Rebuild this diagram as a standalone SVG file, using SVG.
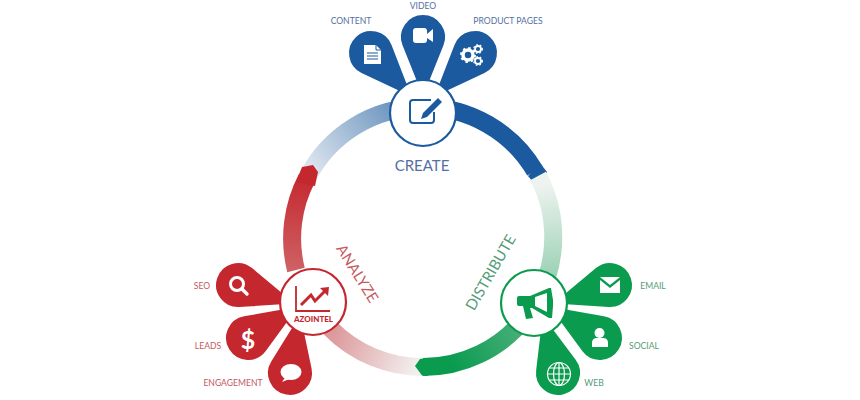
<svg xmlns="http://www.w3.org/2000/svg" xmlns:xlink="http://www.w3.org/1999/xlink" width="860" height="400" viewBox="0 0 860 400">
<style>
text{font-family:"Lato","Open Sans",sans-serif;text-anchor:middle;dominant-baseline:central}
.l{font-size:8.600px}
.big{font-size:15px}
.b{fill:#55709f}.r{fill:#c45a5e}.g{fill:#559c78}
.ring{fill:none;stroke-width:18}
.wn{fill:#fff;stroke-width:2.200}
.pb{fill:#1c5a9f}.pr{fill:#c4282e}.pg{fill:#0a9b4f}
.w{fill:#fff}
</style>
<defs>
<path id="petal" d="M62 0L8.500-21.400A23 23 0 1 0 8.500 21.400Z" stroke="#fff" stroke-width="2"/>
<linearGradient id="gb" gradientUnits="userSpaceOnUse" x1="395" y1="112" x2="308" y2="175"><stop offset="0" stop-color="#6f97c0"/><stop offset="1" stop-color="#e2e9f1"/></linearGradient>
<linearGradient id="gr" gradientUnits="userSpaceOnUse" x1="335" y1="332" x2="415" y2="367"><stop offset="0" stop-color="#dd9a9c"/><stop offset="1" stop-color="#f2eeee"/></linearGradient>
<linearGradient id="gr2" gradientUnits="userSpaceOnUse" x1="305" y1="175" x2="296" y2="280"><stop offset="0" stop-color="#c4282e"/><stop offset="1" stop-color="#d0666a"/></linearGradient>
<linearGradient id="gg" gradientUnits="userSpaceOnUse" x1="553" y1="275" x2="540" y2="185"><stop offset="0" stop-color="#9dd2b5"/><stop offset="1" stop-color="#eef3f0"/></linearGradient>
<linearGradient id="gg2" gradientUnits="userSpaceOnUse" x1="450" y1="362" x2="515" y2="325"><stop offset="0" stop-color="#0a9b4f"/><stop offset="1" stop-color="#45ae77"/></linearGradient>
</defs>
<g id="connectors">
<path class="ring" stroke="url(#gb)" d="M423 107A130 130 0 0 0 307 178"/>
<path class="ring" stroke="#1c5a9f" d="M423 107A130 130 0 0 1 535 171"/>
<path fill="#1c5a9f" d="M540 163L547 172L542 182L533 182L528 176Z"/>
<path class="ring" stroke="url(#gg)" d="M537 300A130 130 0 0 0 538 176"/>
<path class="ring" stroke="url(#gr)" d="M330 328A130 130 0 0 0 425 367"/>
<path class="ring" stroke="url(#gg2)" d="M525 318A130 130 0 0 1 423 367"/>
<path fill="#0a9b4f" d="M420 359L415 366L422 375.500L428 376L428 358Z"/>
<path class="ring" stroke="url(#gr2)" d="M296 270A130 130 0 0 1 307 178"/>
<path fill="#c4282e" d="M302 167L313 165L318 172L315 186L296 182Z"/>
</g>
<g id="content">
<use href="#petal" class="pb" transform="translate(371 53) rotate(47)"/>
<path class="w" d="M364 45H376L381 50V64H364Z"/>
<path d="M367 53H378M367 56H378M367 59H378" stroke="#1c5a9f" stroke-width="1.200"/>
<path d="M376 45V50H381" fill="none" stroke="#1c5a9f" stroke-width="1"/>
<text class="l b" x="351" y="21">CONTENT</text>
</g>
<g id="video">
<use href="#petal" class="pb" transform="translate(423 37) rotate(90)"/>
<rect class="w" x="413" y="28" width="14" height="15" rx="3"/>
<path class="w" d="M427 34L433 29V42L427 38Z"/>
<text class="l b" x="423" y="6">VIDEO</text>
</g>
<g id="product-pages">
<use href="#petal" class="pb" transform="translate(475 53) rotate(133)"/>
<circle cx="468" cy="55" r="5" fill="none" stroke="#fff" stroke-width="3.500"/>
<circle cx="468" cy="55" r="7" fill="none" stroke="#fff" stroke-width="2" stroke-dasharray="2.500 3"/>
<circle cx="478" cy="49" r="3" fill="none" stroke="#fff" stroke-width="1.800"/>
<circle cx="478" cy="49" r="4.300" fill="none" stroke="#fff" stroke-width="1.300" stroke-dasharray="1.600 2"/>
<circle cx="478" cy="61" r="3" fill="none" stroke="#fff" stroke-width="1.800"/>
<circle cx="478" cy="61" r="4.300" fill="none" stroke="#fff" stroke-width="1.300" stroke-dasharray="1.600 2"/>
<text class="l b" x="508" y="21">PRODUCT PAGES</text>
</g>
<g id="create">
<circle class="wn" cx="423" cy="113" r="33" stroke="#1c5a9f"/>
<path d="M431 100H413Q410 100 410 103V120Q410 123 413 123H431Q434 123 434 120V112" fill="none" stroke="#1c5a9f" stroke-width="2"/>
<path fill="#1c5a9f" d="M438 98L442 102L427 117L421 119L423 113Z"/>
<text class="big b" x="422" y="165">CREATE</text>
</g>
<g id="seo">
<use href="#petal" class="pr" transform="translate(238 285) rotate(18)"/>
<circle cx="237" cy="284" r="6.500" fill="none" stroke="#fff" stroke-width="3"/>
<path d="M242 289L247 294" stroke="#fff" stroke-width="3.400" stroke-linecap="round"/>
<text class="l r" x="202" y="286">SEO</text>
</g>
<g id="leads">
<use href="#petal" class="pr" transform="translate(248 338) rotate(-32)"/>
<text x="248" y="339" fill="#fff" style="font-size:25px;font-weight:700">$</text>
<text class="l r" x="208" y="346">LEADS</text>
</g>
<g id="engagement">
<use href="#petal" class="pr" transform="translate(290 373) rotate(-80)"/>
<ellipse class="w" cx="291" cy="372" rx="10.500" ry="8"/>
<path class="w" d="M286 376L282 382L292 378Z"/>
<text class="l r" x="233" y="383">ENGAGEMENT</text>
</g>
<g id="analyze">
<circle class="wn" cx="313" cy="302" r="33" stroke="#c4282e"/>
<path d="M296 286V311H330" fill="none" stroke="#c4282e" stroke-width="1.800"/>
<path d="M301 305L311 295L315 301L325 291" fill="none" stroke="#c4282e" stroke-width="3"/>
<path fill="#c4282e" d="M320 288L329 287L328 296Z"/>
<text x="313.500" y="319" fill="#c4282e" style="font-size:8px;font-weight:900">AZOINTEL</text>
<text class="big r" transform="translate(358 273) rotate(58)">ANALYZE</text>
</g>
<g id="email">
<use href="#petal" class="pg" transform="translate(610 285) rotate(162)"/>
<path class="w" d="M600 277H620L610 285Z"/>
<path class="w" d="M600 280L610 288L620 280V293H600Z"/>
<text class="l g" x="653" y="286">EMAIL</text>
</g>
<g id="social">
<use href="#petal" class="pg" transform="translate(600 338) rotate(212)"/>
<circle class="w" cx="599.500" cy="333" r="5"/>
<path class="w" d="M592 347V343Q592 338 597 338H603Q608 338 608 343V347Z"/>
<text class="l g" x="644" y="346">SOCIAL</text>
</g>
<g id="web">
<use href="#petal" class="pg" transform="translate(558 373) rotate(255)"/>
<g fill="none" stroke="#fff" stroke-width="1.200">
<circle cx="559" cy="374" r="11.500"/>
<ellipse cx="559" cy="374" rx="5.500" ry="11.500"/>
<path d="M559 362.500V385.500M547.500 374H570.500M549.500 368H568.500M549.500 380H568.500"/>
</g>
<text class="l g" x="594" y="383">WEB</text>
</g>
<g id="distribute">
<circle class="wn" cx="534" cy="303" r="33" stroke="#0a9b4f"/>
<path fill="#0a9b4f" d="M519 296H530L549 288H551L553 300V306L552 318H549L532 308H530L533 318L526 319L523 306H519Q517 306 517 304V298Q517 296 519 296Z"/>
<path class="w" d="M535 297L547 293V312L535 306Z"/>
<text class="big g" transform="translate(490 272) rotate(-60)">DISTRIBUTE</text>
</g>
</svg>
